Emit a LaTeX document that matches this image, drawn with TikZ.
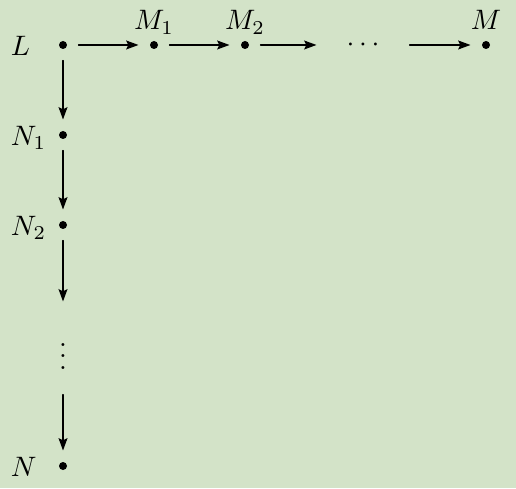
\documentclass[tikz,border=0pt]{standalone}
\usetikzlibrary{arrows.meta}
\definecolor{bgpaper}{RGB}{211,227,200}
\tikzset{
  pt/.style={circle, fill=black, inner sep=0pt, minimum size=0.1cm, outer sep=0.144cm},
  gap/.style={rectangle, inner sep=0pt, minimum size=1.15cm},
  lbl/.style={inner sep=0pt}
}
\begin{document}
\begin{tikzpicture}[line cap=round, line join=round, >={Stealth[length=4.4pt,width=3.2pt,inset=0.8pt]}]
			% Background and bounding box
			\fill[bgpaper] (0,0) rectangle (6.45,6.1);
			\useasboundingbox (0,0) rectangle (6.45,6.1);
			
			% Top row of points
			\node[pt] (L) at (0.7875, 5.5375) {};
			\node[pt] (M1) at (1.925, 5.5375) {};
			\node[pt] (M2) at (3.0625, 5.5375) {};
			\node[gap] (hdots) at (4.5375, 5.5375) {$\cdots$};
			\node[pt] (M) at (6.075, 5.5375) {};
			
			% Left column of points
			\node[pt] (N1) at (0.7875, 4.4125) {};
			\node[pt] (N2) at (0.7875, 3.2875) {};
			\node[gap] (vdots) at (0.7875, 1.75) {$\vdots$};
			\node[pt] (N) at (0.7875, 0.275) {};
			
			% Arrows along the row
			\draw[->] (L) -- (M1);
			\draw[->] (M1) -- (M2);
			\draw[->] (M2) -- (hdots);
			\draw[->] (hdots) -- (M);
			
			% Arrows down the column
			\draw[->] (L) -- (N1);
			\draw[->] (N1) -- (N2);
			\draw[->] (N2) -- (vdots);
			\draw[->] (vdots) -- (N);
			
			% Labels
			\node[lbl, anchor=base west] (labL) at (0.13, 5.4065) {$L$};
			\node[lbl, anchor=base west] (labN1) at (0.13, 4.2815) {$N_1$};
			\node[lbl, anchor=base west] (labN2) at (0.13, 3.1565) {$N_2$};
			\node[lbl, anchor=base west] (labN) at (0.13, 0.144) {$N$};
			\node[lbl, anchor=base] (labM1) at (1.925, 5.7275) {$M_1$};
			\node[lbl, anchor=base] (labM2) at (3.0625, 5.7275) {$M_2$};
			\node[lbl, anchor=base] (labM) at (6.075, 5.7275) {$M$};
			
		\end{tikzpicture}
\end{document}
